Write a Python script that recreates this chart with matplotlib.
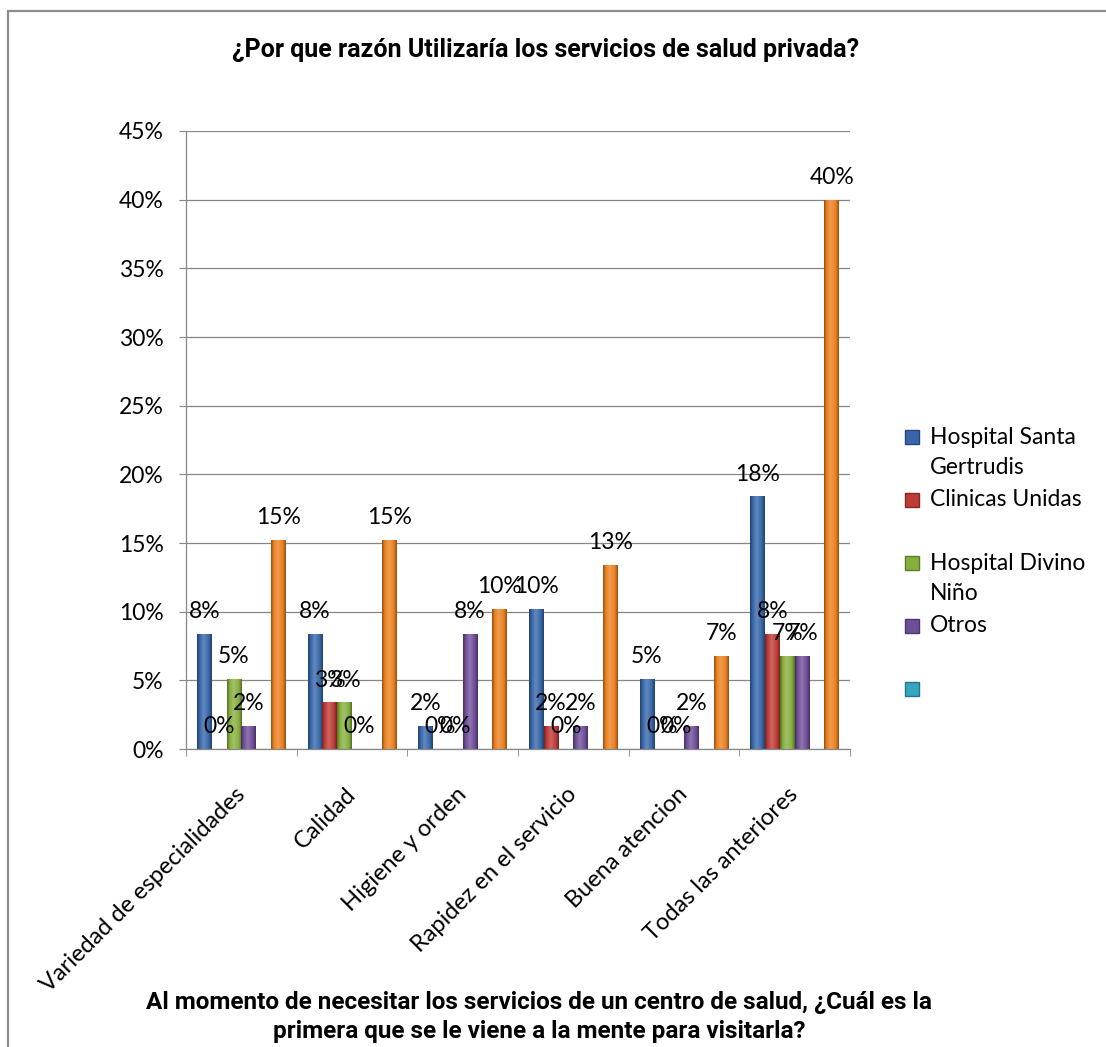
import numpy as np
import matplotlib
matplotlib.use("Agg")
import matplotlib.pyplot as plt
from matplotlib.colors import LinearSegmentedColormap, to_rgb
from matplotlib.patches import Rectangle
from matplotlib.transforms import ScaledTranslation

plt.rcParams['font.family'] = ['Lato', 'DejaVu Sans']

# respuestas por razón (en %)
razones = ["Variedad de especialidades", "Calidad", "Higiene y orden",
           "Rapidez en el servicio", "Buena atencion", "Todas las anteriores"]

santa_gertrudis = [8.4, 8.4, 1.7, 10.2, 5.1, 18.4]
clinicas_unidas = [0, 3.4, 0, 1.7, 0, 8.4]
divino_nino = [5.1, 3.4, 0, 0, 0, 6.8]
otros = [1.7, 0, 8.4, 1.7, 1.7, 6.8]
vacia = [np.nan] * 6
total = [15.2, 15.2, 10.2, 13.4, 6.8, 40.0]

nombres = ["Hospital Santa\nGertrudis", "Clinicas Unidas\n", "Hospital Divino\nNiño", "Otros\n", "", None]
valores = [santa_gertrudis, clinicas_unidas, divino_nino, otros, vacia, total]
colores = ["#3767AA", "#BE3B36", "#87AF3E", "#6F4E98", "#36A5C2", "#EA8020"]

W, H = 1106, 1047
GRIS = "#878787"
FS = 16.5

fig = plt.figure(figsize=(W / 100, H / 100), dpi=100)
ax = fig.add_axes([186 / W, 1 - 749 / H, (850 - 186) / W, (749 - 131) / H])


def sombrear(barras, color):
    base = np.array(to_rgb(color))
    oscuro = base * 0.62
    claro = base + (1 - base) * 0.22
    cmap = LinearSegmentedColormap.from_list(
        "bisel", [(0, oscuro), (0.18, base), (0.45, claro), (0.8, base), (1, oscuro)])
    grad = np.linspace(0, 1, 64).reshape(1, -1)
    for b in barras:
        h = b.get_height()
        if not np.isfinite(h) or h <= 0:
            continue
        x0, w = b.get_x(), b.get_width()
        im = ax.imshow(grad, cmap=cmap, extent=[x0, x0 + w, 0, h],
                       aspect='auto', zorder=2.5, interpolation='bilinear')
        im.set_clip_path(b)


x = np.arange(len(razones)) + 0.5
ancho = 0.134
for i, (vals, col) in enumerate(zip(valores, colores)):
    pos = x + (i - 2.5) * ancho
    barras = ax.bar(pos, vals, ancho, color=col, zorder=2)
    sombrear(barras, col)
    if nombres[i] == "":
        continue
    for px, v in zip(pos, vals):
        ax.annotate(f"{v:.0f}%", (px, v), xytext=(0, 8.5), textcoords='offset points',
                    ha='center', va='bottom', fontsize=FS, zorder=4)

ax.set_xlim(0, 6)
ax.set_ylim(0, 45)
ax.set_yticks(np.arange(0, 46, 5))
ax.set_yticklabels([f"{v}%" for v in range(0, 46, 5)], fontsize=FS)
ax.yaxis.grid(True, color=GRIS, lw=0.9)
ax.set_axisbelow(True)

ax.set_xticks(x)
ax.set_xticklabels(razones, rotation=45, ha='right', va='top',
                   rotation_mode='anchor', fontsize=17)
ax.set_xticks(np.arange(7), minor=True)
ax.tick_params(axis='x', which='major', length=0, pad=25)
ax.tick_params(axis='x', which='minor', length=5, color=GRIS, direction='out')
ax.tick_params(axis='y', length=5, color=GRIS, pad=11)
for lab in ax.get_xticklabels():
    lab.set_transform(lab.get_transform() + ScaledTranslation(-0.07, 0, fig.dpi_scale_trans))

for s in ("top", "right"):
    ax.spines[s].set_visible(False)
for s in ("left", "bottom"):
    ax.spines[s].set_color(GRIS)
    ax.spines[s].set_linewidth(0.9)

# titulos
fig.text(546 / W, 1 - 50 / H, "¿Por que razón Utilizaría los servicios de salud privada?",
         ha='center', va='center', fontsize=18, fontweight='bold',
         family=['Roboto', 'DejaVu Sans'])
fig.text(539 / W, 1 - 1017 / H,
         "Al momento de necesitar los servicios de un centro de salud, ¿Cuál es la\n"
         "primera que se le viene a la mente para visitarla?",
         ha='center', va='center', fontsize=17.5, fontweight='bold', linespacing=1.3,
         family=['Roboto', 'DejaVu Sans'])

# leyenda
for i, (nombre, col) in enumerate(zip(nombres, colores)):
    if nombre is None:
        continue
    yc = 437 + 63 * i
    fig.patches.append(Rectangle((905 / W, 1 - (yc + 7) / H), 14 / W, 14 / H,
                                 transform=fig.transFigure, facecolor=col,
                                 edgecolor=to_rgb(col) * np.array(0.7)))
    for j, linea in enumerate(nombre.split("\n")):
        if linea:
            fig.text(930 / W, 1 - (yc + 31 * j) / H, linea, ha='left', va='center', fontsize=FS)

# marco del grafico
fig.patches.append(Rectangle((8 / W, -0.1), 1.2, 1.1 - 11 / H, transform=fig.transFigure,
                             fill=False, edgecolor="#8c8c8c", lw=1.6))

fig.savefig("out.png", dpi=100, facecolor="white")
